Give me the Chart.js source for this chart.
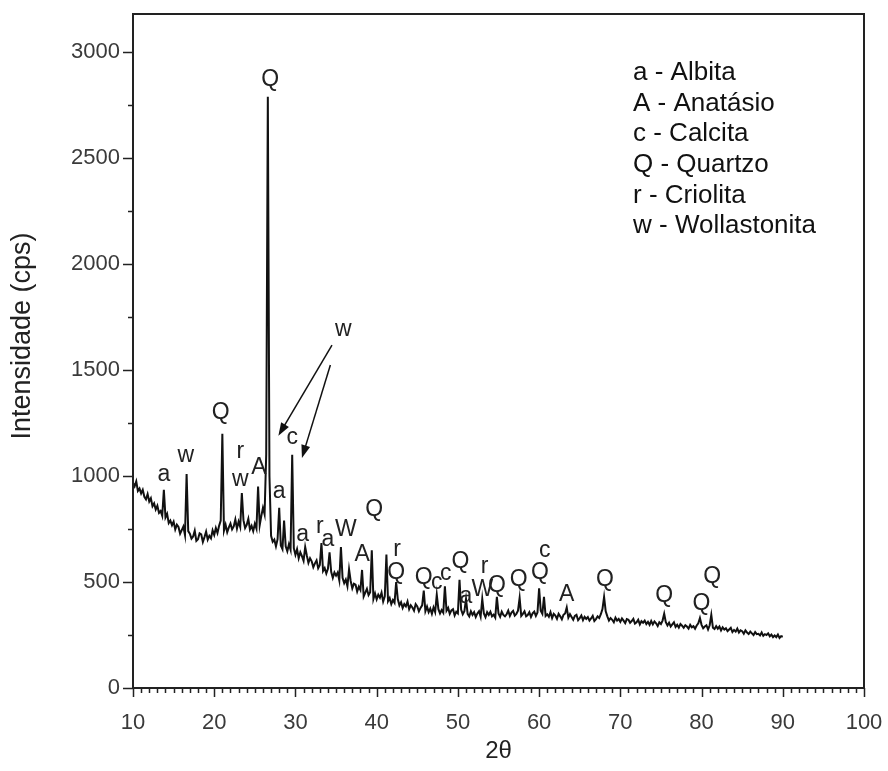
<!DOCTYPE html>
<html>
<head>
<meta charset="utf-8">
<script src="https://cdn.jsdelivr.net/npm/chart.js@4.4.1/dist/chart.umd.min.js"></script>
<style>
html, body { margin: 0; padding: 0; background: #fff; }
#wrap { width: 888px; height: 771px; }
</style>
</head>
<body>
<div id="wrap"><canvas id="xrdChart" width="888" height="771"></canvas></div>
<script>
// Difratograma: 2θ de 10 a 90 em passos de 0,2 graus
var angleStart = 10;
var angleStep = 0.2;

// Intensidade (cps), uma linha por grau (x.0, x.2, x.4, x.6, x.8)
var intensity = [
    968, 952, 975, 930, 941,
    918, 935, 902, 890, 915,
    880, 895, 858, 871, 842,
    860, 826, 835, 812, 935,
    805, 822, 778, 790, 768,
    785, 748, 771, 760, 728,
    745, 762, 722, 1010, 740,
    728, 705, 715, 742, 694,
    702, 730, 725, 689, 712,
    738, 700, 718, 706, 744,
    722, 755, 731, 765, 790,
    1200, 742, 770, 735, 758,
    776, 748, 762, 795, 752,
    785, 760, 920, 792, 755,
    770, 798, 748, 765, 740,
    775, 752, 950, 768, 812,
    850, 820, 1100, 2790, 1000,
    718, 690, 700, 668, 702,
    850, 672, 655, 790, 668,
    645, 678, 652, 1100, 660,
    628, 655, 612, 640, 622,
    600, 665, 625, 590, 612,
    598, 570, 588, 602, 565,
    580, 684, 552, 566, 540,
    562, 640, 548, 520, 545,
    530, 545, 508, 665, 520,
    495, 512, 480, 560, 505,
    470, 492, 488, 455, 478,
    462, 557, 432, 450, 468,
    438, 452, 650, 420, 446,
    418, 440, 426, 450, 408,
    432, 630, 410, 425, 396,
    415, 402, 500, 420, 390,
    405, 378, 396, 385, 408,
    372, 390, 380, 365, 396,
    385, 362, 378, 390, 460,
    362, 384, 358, 375, 350,
    380, 358, 440, 372, 352,
    368, 355, 480, 365, 378,
    350, 366, 372, 342, 360,
    352, 510, 370, 348, 362,
    420, 350, 338, 362, 345,
    358, 335, 352, 362, 336,
    420, 352, 334, 358, 345,
    360, 338, 346, 332, 430,
    352, 336, 360, 345, 338,
    348, 365, 340, 356, 364,
    342, 350, 365, 425, 340,
    350, 362, 338, 344, 358,
    335, 352, 360, 340, 356,
    470, 365, 350, 430, 340,
    348, 336, 358, 330, 350,
    342, 326, 350, 338, 324,
    345, 352, 380, 332, 348,
    335, 322, 340, 345, 320,
    330, 342, 320, 336, 326,
    335, 318, 328, 340, 316,
    325, 338, 330, 348, 372,
    430, 362, 338, 318, 330,
    322, 310, 332, 318, 326,
    312, 328, 318, 306, 325,
    322, 308, 316, 326, 304,
    310, 322, 300, 315, 308,
    318, 302, 312, 298, 316,
    300, 314, 305, 292, 310,
    302, 318, 350, 310, 295,
    308, 290, 300, 310, 288,
    298, 285, 302, 294, 284,
    296, 290, 280, 298, 286,
    292, 280, 295, 305, 330,
    298, 282, 290, 296, 276,
    296, 345, 284, 278, 292,
    280, 290, 272, 286, 276,
    282, 268, 276, 284, 264,
    274, 266, 280, 262, 272,
    268, 256, 272, 262, 255,
    266, 258, 250, 264, 254,
    256, 248, 262, 246, 254,
    250, 258, 244, 252, 240,
    248, 240, 252, 236, 245,
    242
];

// Letras das fases sobre os picos (posição em 2θ e cps)
var peakText = ['Q', 'Q', 'a', 'w', 'r', 'w', 'A', 'c', 'a', 'a', 'r', 'a', 'W', 'A', 'Q', 'r', 'Q',
    'Q', 'c', 'c', 'Q', 'a', 'W', 'r', 'Q', 'Q', 'Q', 'c', 'A', 'Q', 'Q', 'Q', 'Q', 'w'];
var peakAngle = [26.9, 20.8, 13.8, 16.5, 23.2, 23.2, 25.5, 29.6, 28.0, 30.9, 33.0, 34.0, 36.2, 38.2, 39.7, 42.5, 42.4,
    45.8, 47.4, 48.5, 50.3, 51.0, 53.0, 53.3, 54.8, 57.5, 60.1, 60.7, 63.4, 68.1, 75.4, 80.0, 81.3, 35.9];
var peakCps = [2868, 1297, 1005, 1094, 1113, 981, 1038, 1179, 925, 722, 759, 698, 745, 627, 840, 651, 542,
    519, 495, 538, 594, 429, 462, 571, 481, 509, 542, 646, 439, 509, 434, 396, 524, 1689];

// Setas da wollastonita: início e fim (2θ, cps)
var arrowFrom = [[34.5, 1618], [34.3, 1524]];
var arrowTo = [[27.9, 1190], [30.8, 1085]];

var legendLines = ['a - Albita', 'A - Anatásio', 'c - Calcita', 'Q - Quartzo', 'r - Criolita', 'w - Wollastonita'];

var xTicks = [10, 20, 30, 40, 50, 60, 70, 80, 90, 100];
var yTicks = [0, 500, 1000, 1500, 2000, 2500, 3000];

var points = intensity.map(function (v, i) {
    return { x: +(angleStart + i * angleStep).toFixed(1), y: v };
});

Chart.defaults.font.family = '"Liberation Sans", Arial, sans-serif';

// Moldura, marcas dos eixos, letras dos picos e legenda
var decorPlugin = {
    id: 'decor',
    afterDatasetsDraw: function (chart) {
        var c = chart.ctx;
        var a = chart.chartArea;
        var xs = chart.scales.x;
        var ys = chart.scales.y;
        c.save();

        c.strokeStyle = '#222';
        c.lineWidth = 2;
        c.strokeRect(a.left, a.top, a.right - a.left, a.bottom - a.top);

        c.lineWidth = 1.5;
        c.beginPath();
        for (var v = 10; v <= 100; v++) {
            var px = Math.round(xs.getPixelForValue(v)) + 0.5;
            var len = v % 10 === 0 ? 9 : 5;
            c.moveTo(px, a.bottom);
            c.lineTo(px, a.bottom + len);
        }
        for (var w = 0; w <= 3000; w += 250) {
            var py = Math.round(ys.getPixelForValue(w)) + 0.5;
            var l2 = w % 500 === 0 ? 10 : 5;
            c.moveTo(a.left, py);
            c.lineTo(a.left - l2, py);
        }
        c.stroke();

        c.fillStyle = '#222';
        c.font = '23px "Liberation Sans", Arial, sans-serif';
        c.textAlign = 'center';
        c.textBaseline = 'middle';
        for (var i = 0; i < peakText.length; i++) {
            c.fillText(peakText[i], xs.getPixelForValue(peakAngle[i]), ys.getPixelForValue(peakCps[i]));
        }

        c.strokeStyle = '#111';
        c.fillStyle = '#111';
        c.lineWidth = 1.5;
        for (var k = 0; k < arrowFrom.length; k++) {
            var x0 = xs.getPixelForValue(arrowFrom[k][0]), y0 = ys.getPixelForValue(arrowFrom[k][1]);
            var x1 = xs.getPixelForValue(arrowTo[k][0]), y1 = ys.getPixelForValue(arrowTo[k][1]);
            var ang = Math.atan2(y1 - y0, x1 - x0);
            c.beginPath();
            c.moveTo(x0, y0);
            c.lineTo(x1 - 8 * Math.cos(ang), y1 - 8 * Math.sin(ang));
            c.stroke();
            c.beginPath();
            c.moveTo(x1, y1);
            c.lineTo(x1 - 13 * Math.cos(ang) + 4.5 * Math.sin(ang), y1 - 13 * Math.sin(ang) - 4.5 * Math.cos(ang));
            c.lineTo(x1 - 13 * Math.cos(ang) - 4.5 * Math.sin(ang), y1 - 13 * Math.sin(ang) + 4.5 * Math.cos(ang));
            c.closePath();
            c.fill();
        }

        c.font = '26px "Liberation Sans", Arial, sans-serif';
        c.textAlign = 'left';
        for (var j = 0; j < legendLines.length; j++) {
            c.fillText(legendLines[j], a.right - 231, a.top + 59 + j * 30.6);
        }
        c.restore();
    }
};

var ctx = document.getElementById('xrdChart').getContext('2d');
var xrdChart = new Chart(ctx, {
    type: 'line',
    data: {
        datasets: [{
            data: points,
            borderColor: '#111',
            borderWidth: 2,
            pointRadius: 0,
            tension: 0,
            fill: false
        }]
    },
    options: {
        responsive: false,
        animation: false,
        layout: { padding: { left: 0, right: 24, top: 14, bottom: 0 } },
        plugins: {
            legend: { display: false },
            tooltip: { enabled: false }
        },
        scales: {
            x: {
                type: 'linear',
                min: 10,
                max: 100,
                afterBuildTicks: function (s) { s.ticks = xTicks.map(function (v) { return { value: v }; }); },
                afterFit: function (s) { s.height = 83; s.paddingLeft = 0; s.paddingRight = 0; },
                grid: { display: false, drawTicks: false },
                border: { display: false },
                ticks: { padding: 22, color: '#3a3a3a', font: { size: 22 }, maxRotation: 0 },
                title: { display: true, text: '2θ', color: '#222', font: { size: 24 }, padding: { top: 0, bottom: 5 } }
            },
            y: {
                min: 0,
                max: 3180,
                afterBuildTicks: function (s) { s.ticks = yTicks.map(function (v) { return { value: v }; }); },
                afterFit: function (s) { s.width = 133; s.paddingTop = 0; s.paddingBottom = 0; },
                grid: { display: false, drawTicks: false },
                border: { display: false },
                ticks: {
                    padding: 13, color: '#3a3a3a', font: { size: 22 },
                    callback: function (value) { return String(value); }
                },
                title: { display: true, text: '    Intensidade (cps)', color: '#222', font: { size: 27 }, padding: { top: 6, bottom: 0 } }
            }
        }
    },
    plugins: [decorPlugin]
});
</script>
</body>
</html>
